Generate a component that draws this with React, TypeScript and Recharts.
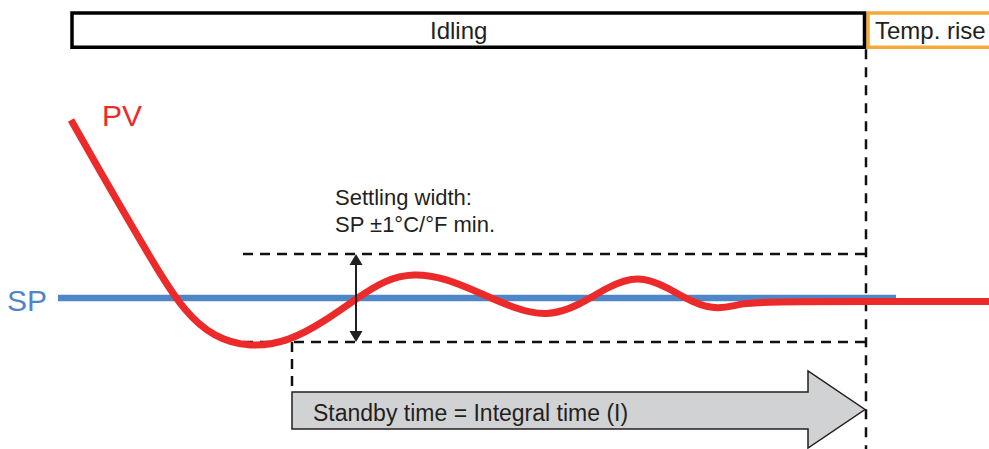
import { ComposedChart, Line, XAxis, YAxis, ReferenceLine, ReferenceArea, ReferenceDot } from 'recharts';

const RED = '#EC2A2A';
const BLUE = '#4F86C6';
const ORANGE = '#F6A937';
const INK = '#231F20';
const GREY = '#D1D2D4';

// PV trace (time, level; level grows downward)
const pvTime = [71, 100, 130, 160, 185, 213, 250, 290, 325, 357, 385, 413, 445, 480, 513, 547, 580, 607, 638, 667, 693, 718, 743, 770, 989];
const pvLevel = [120, 171, 223, 274, 312, 337, 348, 341, 321, 298, 280, 273, 278, 293, 308, 317, 305, 287, 275, 287, 303, 310, 303, 301.5, 301.5];

// set point
const spTime = [58, 896];
const spLevel = [298, 298];

// phase bar across the top
const phaseNames = ['Idling', 'Temp. rise'];
const phaseStart = [72, 868];
const phaseEnd = [864.5, 1000];
const phaseTop = 13;
const phaseBottom = 47.3;
const phaseLabelTime = [430, 875];
const phaseLabelLevel = 30.5;

// settling band
const bandStart = 243;
const bandEnd = 866;
const bandHigh = 254;
const bandLow = 342;
const bandMarkerTime = 356;
const idlingEnd = 866;

// standby arrow
const standbyStart = 292;
const standbyHeadStart = 808;
const standbyEnd = 865;
const standbyHeadTop = 371;
const standbyBodyTop = 392;
const standbyBodyBottom = 429;
const standbyHeadBottom = 448;

const pvData = pvTime.map((x, i) => ({ x, y: pvLevel[i] }));
const spData = spTime.map((x, i) => ({ x, y: spLevel[i] }));

const BlockArrow = (props: any) => {
  const { x, y, width, height } = props;
  const headFrac = (standbyEnd - standbyHeadStart) / (standbyEnd - standbyStart);
  const span = standbyHeadBottom - standbyHeadTop;
  const topIn = ((standbyBodyTop - standbyHeadTop) / span) * height;
  const botIn = ((standbyHeadBottom - standbyBodyBottom) / span) * height;
  const hx = x + width * (1 - headFrac);
  const pts = [
    [x, y + topIn],
    [hx, y + topIn],
    [hx, y],
    [x + width, y + height / 2],
    [hx, y + height],
    [hx, y + height - botIn],
    [x, y + height - botIn],
  ]
    .map((p) => p.join(','))
    .join(' ');
  return <polygon points={pts} fill={GREY} stroke={INK} strokeWidth={1.5} strokeLinejoin="miter" />;
};

const DoubleArrow = (props: any) => {
  const { x1, y1, x2, y2 } = props;
  const h = 11;
  const w = 6.5;
  return (
    <g>
      <line x1={x1} y1={y1 + h} x2={x2} y2={y2 - h} stroke={INK} strokeWidth={2} />
      <polygon points={`${x1},${y1} ${x1 - w},${y1 + h} ${x1 + w},${y1 + h}`} fill={INK} />
      <polygon points={`${x2},${y2} ${x2 - w},${y2 - h} ${x2 + w},${y2 - h}`} fill={INK} />
    </g>
  );
};

const NoMark = () => <g />;

const txt = (value: string, fill: string, fontSize: number) => ({
  value,
  position: 'right' as const,
  offset: 0,
  fill,
  fontSize,
});

export default function App() {
  return (
    <div style={{ position: 'absolute', left: 0, top: 0, fontFamily: '"Liberation Sans", Arial, sans-serif' }}>
      <ComposedChart width={989} height={449} margin={{ top: 0, right: 0, bottom: 0, left: 0 }}>
        <XAxis type="number" dataKey="x" domain={[0, 989]} hide allowDataOverflow />
        <YAxis type="number" dataKey="y" domain={[0, 449]} reversed hide allowDataOverflow />

        {/* phase bar */}
        <ReferenceArea
          x1={phaseStart[1]}
          x2={phaseEnd[1]}
          y1={phaseTop}
          y2={phaseBottom}
          fill="#fff"
          fillOpacity={1}
          stroke={ORANGE}
          strokeWidth={3.5}
          ifOverflow="visible"
        />
        <ReferenceArea
          x1={phaseStart[0]}
          x2={phaseEnd[0]}
          y1={phaseTop}
          y2={phaseBottom}
          fill="#fff"
          fillOpacity={1}
          stroke="#000"
          strokeWidth={3.5}
        />

        {/* settling band and idling limit */}
        <ReferenceLine
          segment={[{ x: bandStart, y: bandHigh }, { x: bandEnd, y: bandHigh }]}
          stroke="#111"
          strokeWidth={2.5}
          strokeDasharray="10 7"
        />
        <ReferenceLine
          segment={[{ x: bandStart, y: bandLow }, { x: bandEnd, y: bandLow }]}
          stroke="#111"
          strokeWidth={2.5}
          strokeDasharray="10 7"
        />
        <ReferenceLine
          segment={[{ x: idlingEnd, y: phaseBottom + 2 }, { x: idlingEnd, y: 449 }]}
          stroke="#111"
          strokeWidth={2.5}
          strokeDasharray="10 8"
        />
        <ReferenceLine
          segment={[{ x: standbyStart, y: bandLow }, { x: standbyStart, y: standbyBodyTop }]}
          stroke="#111"
          strokeWidth={2.5}
          strokeDasharray="10 7"
        />

        <ReferenceArea
          x1={standbyStart}
          x2={standbyEnd}
          y1={standbyHeadTop}
          y2={standbyHeadBottom}
          shape={BlockArrow}
        />

        <Line
          data={spData}
          dataKey="y"
          type="linear"
          stroke={BLUE}
          strokeWidth={6.5}
          strokeLinecap="butt"
          dot={false}
          activeDot={false}
          isAnimationActive={false}
        />
        <Line
          data={pvData}
          dataKey="y"
          type="basis"
          stroke={RED}
          strokeWidth={7}
          strokeLinecap="butt"
          strokeLinejoin="round"
          dot={false}
          activeDot={false}
          isAnimationActive={false}
        />

        <ReferenceLine
          segment={[{ x: bandMarkerTime, y: bandHigh }, { x: bandMarkerTime, y: bandLow }]}
          shape={DoubleArrow}
        />

        {/* texts */}
        <ReferenceDot x={phaseLabelTime[0]} y={phaseLabelLevel} r={0} shape={NoMark} label={txt(phaseNames[0], INK, 24)} />
        <ReferenceDot x={phaseLabelTime[1]} y={phaseLabelLevel} r={0} shape={NoMark} label={txt(phaseNames[1], INK, 24)} />
        <ReferenceDot x={102} y={115} r={0} shape={NoMark} label={txt('PV', RED, 30)} />
        <ReferenceDot x={7} y={300} r={0} shape={NoMark} label={txt('SP', BLUE, 30)} />
        <ReferenceDot x={335} y={197} r={0} shape={NoMark} label={txt('Settling width:', INK, 22)} />
        <ReferenceDot x={335} y={224} r={0} shape={NoMark} label={txt('SP ±1°C/°F min.', INK, 22)} />
        <ReferenceDot x={313} y={413} r={0} shape={NoMark} label={txt('Standby time = Integral time (I)', INK, 23)} />
      </ComposedChart>
    </div>
  );
}
